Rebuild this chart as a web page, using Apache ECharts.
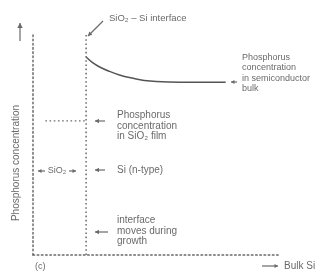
<!DOCTYPE html>
<html>
<head>
<meta charset="utf-8">
<script src="https://cdn.jsdelivr.net/npm/echarts@6/dist/echarts.min.js"></script>
<style>
html, body { margin: 0; padding: 0; background: #fff; }
#chart-container { width: 333px; height: 278px; }
</style>
</head>
<body>
<div id="chart-container"></div>
<script>
// depth into the wafer (arbitrary units) and phosphorus concentration (arbitrary units)
var depth = [21.5, 24, 27, 31, 35, 40, 45, 55, 65, 78];
var bulkConc = [89.2, 86.8, 84.7, 82.7, 81.1, 79.7, 78.6, 77.9, 77.8, 77.8];
var interfaceDepth = 21.5;
var filmStart = 5;
var filmConc = 60.4;

var ink = '#6a6a6a';
var font = 'Liberation Sans';
var dots = [1.6, 2.6];

function pairs(xs, ys) {
    var out = [];
    for (var i = 0; i < xs.length; i++) out.push([xs[i], ys[i]]);
    return out;
}

// small arrow drawn as graphic: line + triangle head at (x2, y2)
function arrow(x1, y1, x2, y2, head) {
    head = head || 4;
    var a = Math.atan2(y2 - y1, x2 - x1);
    var p1 = [x2 - head * Math.cos(a) + head * 0.55 * Math.sin(a), y2 - head * Math.sin(a) - head * 0.55 * Math.cos(a)];
    var p2 = [x2 - head * Math.cos(a) - head * 0.55 * Math.sin(a), y2 - head * Math.sin(a) + head * 0.55 * Math.cos(a)];
    return {
        type: 'group',
        children: [
            {type: 'line', shape: {x1: x1, y1: y1, x2: x2, y2: y2}, style: {stroke: ink, lineWidth: 1.2}},
            {type: 'polygon', shape: {points: [[x2, y2], p1, p2]}, style: {fill: ink}}
        ]
    };
}

function label(x, y, text, size, extra) {
    var s = {text: text, fill: ink, font: (size || 9) + 'px "' + font + '"', lineHeight: 10.5, verticalAlign: 'middle'};
    for (var k in extra) s[k] = extra[k];
    return {type: 'text', x: x, y: y, style: s};
}

var dom = document.getElementById('chart-container');
var myChart = echarts.init(dom, null, {renderer: 'canvas'});

var yTitle = label(16, 163, 'Phosphorus concentration', 10, {align: 'center', verticalAlign: 'middle'});
yTitle.rotation = Math.PI / 2;

var option = {
    animation: false,
    grid: {left: 33, right: 53, top: 33, bottom: 23},
    xAxis: {
        type: 'value', min: 0, max: 100,
        axisLine: {show: true, lineStyle: {color: ink, width: 1.5, type: dots}},
        axisTick: {show: false}, axisLabel: {show: false}, splitLine: {show: false}
    },
    yAxis: {
        type: 'value', min: 0, max: 100,
        axisLine: {show: true, lineStyle: {color: ink, width: 1.5, type: dots}},
        axisTick: {show: false}, axisLabel: {show: false}, splitLine: {show: false}
    },
    series: [
        {
            type: 'line', data: pairs(depth, bulkConc), smooth: 0.4, symbol: 'none',
            lineStyle: {color: '#555', width: 1.5}
        },
        {
            type: 'line', data: [[interfaceDepth, 0], [interfaceDepth, 100]], symbol: 'none',
            lineStyle: {color: ink, width: 1.5, type: dots}
        },
        {
            type: 'line', data: [[filmStart, filmConc], [interfaceDepth, filmConc]], symbol: 'none',
            lineStyle: {color: ink, width: 1.3, type: dots}
        }
    ],
    graphic: [
        arrow(20, 41, 20, 23, 5),
        yTitle,
        arrow(103, 21, 88, 36),
        label(109, 18, 'SiO\u2082 \u2013 Si interface', 9.5),
        arrow(237, 82, 231, 82, 3.5),
        label(242, 52, 'Phosphorus\nconcentration\nin semiconductor\nbulk', 9, {verticalAlign: 'top'}),
        arrow(105, 121, 95, 121),
        label(117, 110, 'Phosphorus\nconcentration\nin SiO\u2082 film', 10, {verticalAlign: 'top'}),
        arrow(45, 171, 38, 171, 3.5),
        arrow(69, 171, 76, 171, 3.5),
        label(57, 171, 'SiO\u2082', 9, {align: 'center'}),
        arrow(105, 170, 95, 170),
        label(117, 170, 'Si (n-type)', 10),
        arrow(108, 232, 95, 232),
        label(117, 215, 'interface\nmoves during\ngrowth', 10, {verticalAlign: 'top'}),
        label(35, 267, '(c)', 9),
        arrow(262, 266, 278, 266, 3.5),
        label(284, 266, 'Bulk Si', 10)
    ]
};

myChart.setOption(option);
window.addEventListener('resize', myChart.resize);
</script>
</body>
</html>
